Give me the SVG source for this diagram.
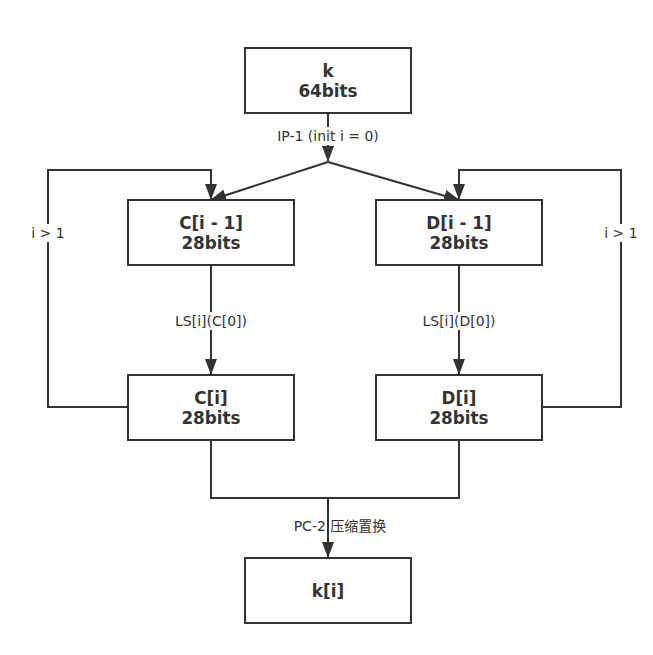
<svg xmlns="http://www.w3.org/2000/svg" width="653" height="655" viewBox="0 0 653 655">
<style>
.box{fill:#fff;stroke:#333;stroke-width:2}
.t{font-family:"DejaVu Sans",sans-serif;font-size:16.8px;font-weight:bold;fill:#333;text-anchor:middle}
.l{font-family:"DejaVu Sans","Noto Sans CJK SC",sans-serif;font-size:14px;fill:#333;text-anchor:middle}
.c{fill:none;stroke:#333;stroke-width:2}
.bg{fill:#fff}
</style>
<defs>
<marker id="b" markerWidth="16" markerHeight="12" viewBox="0 0 16 12" refX="15" refY="6" orient="auto" markerUnits="userSpaceOnUse">
<path d="M0,0 L16,6 L0,12 Z" fill="#333"/>
</marker>
</defs>
<rect width="653" height="655" fill="#fff"/>
<g id="connectors">
<path class="c" d="M328,113 V161" marker-end="url(#b)"/>
<path class="c" d="M328,162 L211,200" marker-end="url(#b)"/>
<path class="c" d="M328,162 L459,200" marker-end="url(#b)"/>
<path class="c" d="M128,407 H48 V170 H211 V199" marker-end="url(#b)"/>
<path class="c" d="M542,407 H621 V170 H459 V199" marker-end="url(#b)"/>
<path class="c" d="M211,265 V374" marker-end="url(#b)"/>
<path class="c" d="M459,265 V374" marker-end="url(#b)"/>
<path class="c" d="M211,440 V498 H459 V440"/>
<path class="c" d="M328,498 V557" marker-end="url(#b)"/>
<rect class="bg" x="274" y="127" width="108" height="18"/>
<text class="l" x="328" y="141">IP-1 (init i = 0)</text>
<rect class="bg" x="29" y="224" width="38" height="18"/>
<text class="l" x="48" y="238">i &gt; 1</text>
<rect class="bg" x="602" y="224" width="38" height="18"/>
<text class="l" x="621" y="238">i &gt; 1</text>
<rect class="bg" x="172" y="312" width="78" height="18"/>
<text class="l" x="211" y="326">LS[i](C[0])</text>
<rect class="bg" x="420" y="312" width="78" height="18"/>
<text class="l" x="459" y="326">LS[i](D[0])</text>
<text class="l" x="340" y="531">PC-2 压缩置换</text>
</g>
<g id="k"><rect class="box" x="245" y="48" width="166" height="65"/><text class="t" x="328" y="77">k</text><text class="t" x="328" y="97">64bits</text></g>
<g id="c_prev"><rect class="box" x="128" y="200" width="166" height="65"/><text class="t" x="211" y="229">C[i - 1]</text><text class="t" x="211" y="249">28bits</text></g>
<g id="d_prev"><rect class="box" x="376" y="200" width="166" height="65"/><text class="t" x="459" y="229">D[i - 1]</text><text class="t" x="459" y="249">28bits</text></g>
<g id="c_i"><rect class="box" x="128" y="375" width="166" height="65"/><text class="t" x="211" y="404">C[i]</text><text class="t" x="211" y="424">28bits</text></g>
<g id="d_i"><rect class="box" x="376" y="375" width="166" height="65"/><text class="t" x="459" y="404">D[i]</text><text class="t" x="459" y="424">28bits</text></g>
<g id="k_i"><rect class="box" x="245" y="558" width="166" height="65"/><text class="t" x="328" y="597">k[i]</text></g>
</svg>
